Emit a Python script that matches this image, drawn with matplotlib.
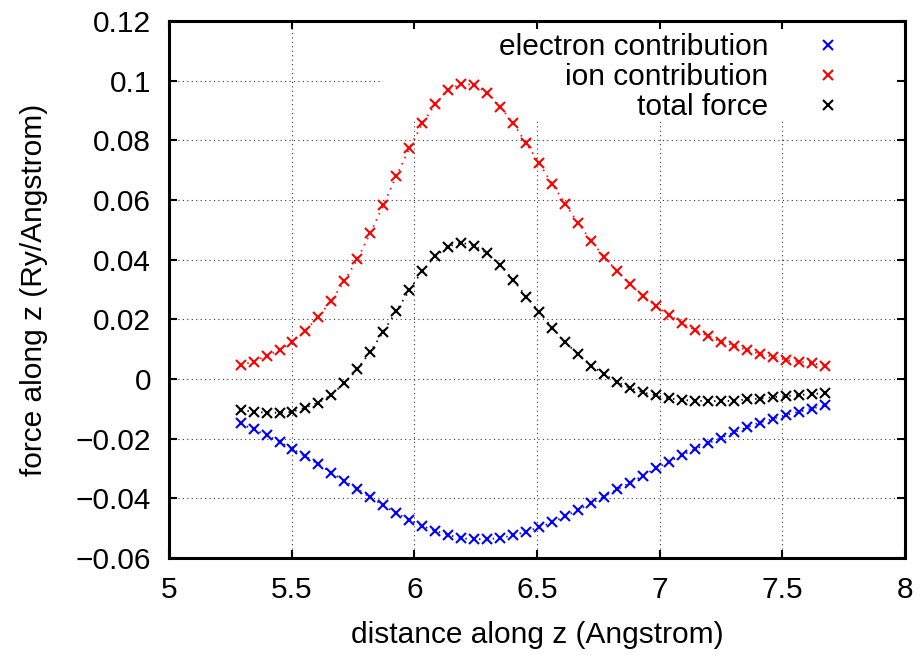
import matplotlib
matplotlib.use("Agg")
import matplotlib.pyplot as plt
from matplotlib.patches import Rectangle
from matplotlib.ticker import FuncFormatter, MultipleLocator

plt.rcParams['font.family'] = ['Liberation Sans', 'DejaVu Sans']
plt.rcParams['font.size'] = 21.5

# distance along z (Angstrom)
z = [5.292, 5.345, 5.398, 5.451, 5.503, 5.556, 5.609, 5.662, 5.715, 5.768,
     5.821, 5.874, 5.927, 5.980, 6.033, 6.086, 6.138, 6.191, 6.244, 6.297,
     6.350, 6.403, 6.456, 6.509, 6.562, 6.615, 6.668, 6.721, 6.773, 6.826,
     6.879, 6.932, 6.985, 7.038, 7.091, 7.144, 7.197, 7.250, 7.303, 7.356,
     7.408, 7.461, 7.514, 7.567, 7.620, 7.673]

electron = [-0.0149, -0.0169, -0.0188, -0.0211, -0.0235, -0.0259, -0.0286, -0.0314, -0.0341, -0.0369,
            -0.0397, -0.0424, -0.0450, -0.0472, -0.0493, -0.0509, -0.0523, -0.0534, -0.0537, -0.0537,
            -0.0533, -0.0524, -0.0512, -0.0497, -0.0481, -0.0459, -0.0439, -0.0417, -0.0394, -0.0370,
            -0.0348, -0.0324, -0.0299, -0.0277, -0.0255, -0.0235, -0.0216, -0.0197, -0.0179, -0.0162,
            -0.0146, -0.0134, -0.0121, -0.0110, -0.0100, -0.0088]

ion = [0.0047, 0.0058, 0.0078, 0.0097, 0.0125, 0.0162, 0.0209, 0.0262, 0.0329, 0.0402,
       0.0490, 0.0583, 0.0681, 0.0773, 0.0857, 0.0922, 0.0969, 0.0989, 0.0986, 0.0960,
       0.0913, 0.0857, 0.0790, 0.0723, 0.0654, 0.0587, 0.0522, 0.0463, 0.0410, 0.0362,
       0.0317, 0.0278, 0.0245, 0.0215, 0.0187, 0.0164, 0.0144, 0.0125, 0.0112, 0.0097,
       0.0084, 0.0075, 0.0064, 0.0058, 0.0053, 0.0045]

total = [-0.0104, -0.0110, -0.0113, -0.0113, -0.0110, -0.0096, -0.0079, -0.0053, -0.0014, 0.0033,
         0.0092, 0.0159, 0.0228, 0.0298, 0.0363, 0.0412, 0.0444, 0.0457, 0.0447, 0.0421,
         0.0382, 0.0332, 0.0276, 0.0224, 0.0172, 0.0123, 0.0083, 0.0045, 0.0017, -0.0010,
         -0.0030, -0.0045, -0.0055, -0.0065, -0.0070, -0.0073, -0.0074, -0.0074, -0.0073, -0.0068,
         -0.0066, -0.0061, -0.0057, -0.0054, -0.0050, -0.0048]

series = [("electron contribution", electron, "#0000ff"),
          ("ion contribution", ion, "#ff0000"),
          ("total force", total, "#000000")]

fig = plt.figure(figsize=(9.22, 6.55), dpi=100)
pos = [169 / 922, 97 / 655, 736 / 922, 537 / 655]

# background axes only carries the dotted grid
bg = fig.add_axes(pos, zorder=0)
ax = fig.add_axes(pos, zorder=1, sharex=bg, sharey=bg)
ax.set_facecolor('none')

ax.set_xlim(5, 8)
ax.set_ylim(-0.06, 0.12)
ax.xaxis.set_major_locator(MultipleLocator(0.5))
ax.yaxis.set_major_locator(MultipleLocator(0.02))

bg.grid(True, ls=(0, (1, 3)), lw=0.8, color='0.2')
bg.tick_params(length=0, labelbottom=False, labelleft=False)
for s in bg.spines.values():
    s.set_visible(False)

# white area behind the key (interrupts the grid like gnuplot)
ax.add_patch(Rectangle((0.2908, 0.8156), 0.7092, 0.1844, transform=ax.transAxes,
                       facecolor='white', edgecolor='none', zorder=0.6))

for label, vals, col in series:
    ax.plot(z, vals, ls=(0, (0.8, 3.0)), lw=1.3, color=col, zorder=2)
    ax.plot(z, vals, ls='none', marker='x', ms=7, mew=1.5, color=col,
            zorder=3, label=label)


def fmt(v, pos):
    v = round(v, 4)
    if v == 0:
        return "0"
    return f"{v:g}".replace('-', '\u2212')


ax.yaxis.set_major_formatter(FuncFormatter(fmt))
ax.xaxis.set_major_formatter(FuncFormatter(fmt))

ax.tick_params(direction='in', length=6, width=1.5, top=True, right=True, pad=13)
for s in ax.spines.values():
    s.set_linewidth(2.2)

ax.set_xlabel("distance along z (Angstrom)")
ax.set_ylabel("force along z (Ry/Angstrom)")
ax.xaxis.set_label_coords(0.5, -0.117)
ax.yaxis.set_label_coords(-0.1644, 0.5)

ax.legend(loc='upper right', bbox_to_anchor=(0.936, 0.9777), frameon=False,
          markerfirst=False, handlelength=2.0, handletextpad=1.0,
          labelspacing=0.07, borderpad=0, borderaxespad=0)

fig.savefig("out.png", dpi=100)
